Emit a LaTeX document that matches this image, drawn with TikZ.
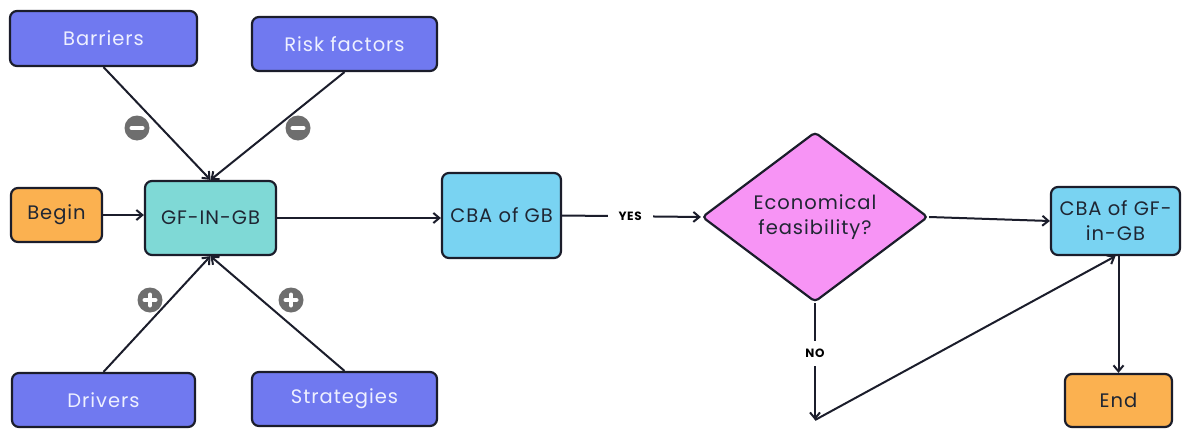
\documentclass[tikz,border=0pt]{standalone}
\usepackage{fontspec}
\setmainfont{Poppins}[LetterSpace=5]
\usetikzlibrary{arrows.meta,shapes.geometric}

\definecolor{edge}{HTML}{1B1D2B}
\definecolor{violetbox}{HTML}{7079F0}
\definecolor{violettext}{HTML}{EEF0FF}
\definecolor{orangebox}{HTML}{FBB150}
\definecolor{tealbox}{HTML}{7FD9D6}
\definecolor{bluebox}{HTML}{79D3F2}
\definecolor{pinkbox}{HTML}{F794F5}
\definecolor{signgray}{HTML}{6E6E6E}
\definecolor{darktext}{HTML}{1F2633}

\tikzset{
  basebox/.style={draw=edge, line width=2.2pt, rounded corners=7pt, inner sep=0pt,
    align=center, font=\fontsize{19.5}{25}\selectfont, text=darktext},
  factor/.style={basebox, fill=violetbox, text=violettext, minimum width=185pt, minimum height=54pt},
  terminal/.style={basebox, fill=orangebox},
  core/.style={basebox, fill=tealbox},
  analysis/.style={basebox, fill=bluebox},
  decision/.style={diamond, draw=edge, line width=2.2pt, rounded corners=4pt, fill=pinkbox,
    inner sep=0pt, minimum width=226pt, minimum height=170pt, align=center,
    font=\fontsize{19.5}{25}\selectfont, text=darktext},
  arr/.style={draw=edge, line width=2pt, -{Straight Barb[length=6pt,width=10pt,line width=2pt]}},
  lbl/.style={fill=white, inner xsep=11pt, inner ysep=2pt, font=\fontsize{12}{14}\selectfont\bfseries, text=black},
  sign/.style={circle, fill=signgray, minimum size=25pt, inner sep=0pt},
  minussign/.style={sign, path picture={
    \draw[white, line width=4pt, line cap=round]
      ([xshift=-5.5pt]path picture bounding box.center) -- ([xshift=5.5pt]path picture bounding box.center);}},
  plussign/.style={sign, path picture={
    \draw[white, line width=4pt, line cap=round]
      ([xshift=-5.5pt]path picture bounding box.center) -- ([xshift=5.5pt]path picture bounding box.center)
      ([yshift=-5.5pt]path picture bounding box.center) -- ([yshift=5.5pt]path picture bounding box.center);}},
}

\begin{document}
\begin{tikzpicture}[x=1pt, y=-1pt]
  \useasboundingbox[fill=white] (0,0) rectangle (1182,428);

  % influencing factors
  \node[factor, minimum width=187pt, minimum height=55pt] (barriers) at (103.5,38.5) {Barriers};
  \node[factor] (risk) at (344.5,44) {Risk factors};
  \node[factor, minimum width=183pt] (drivers) at (103.5,400) {Drivers};
  \node[factor] (strategies) at (344.5,399) {Strategies};

  % main flow
  \node[terminal, minimum width=91pt, minimum height=54pt] (begin) at (56.5,215) {Begin};
  \node[core, minimum width=131pt, minimum height=74pt] (gf) at (210.5,218) {GF-IN-GB};
  \node[analysis, minimum width=119pt, minimum height=85pt] (cbagb) at (501.5,215.5) {CBA of GB};
  \node[decision] (feas) at (815,217) {Economical\\feasibility?};
  \node[analysis, minimum width=129pt, minimum height=68pt] (cbagf) at (1115.5,221) {CBA of GF-\\in-GB};
  \node[terminal, minimum width=107pt, minimum height=53pt] (finish) at (1118.5,400.5) {End};
  \coordinate (nocorner) at (815,420);

  % factor influences
  \draw[arr] (barriers.south) -- (gf.north);
  \draw[arr] (risk.south) -- (gf.north);
  \draw[arr] (drivers.north) -- (gf.south);
  \draw[arr] (strategies.north) -- (gf.south);

  \node[minussign] (m1) at (137,128) {};
  \node[minussign] (m2) at (298,128) {};
  \node[plussign] (p1) at (150,300) {};
  \node[plussign] (p2) at (291,300) {};

  % flow connectors
  \draw[arr] (begin.east) -- (gf.west |- begin.east);
  \draw[arr] (gf.east) -- (cbagb.west |- gf.east);
  \draw[arr] (cbagb.east) -- node[lbl, pos=0.49] {YES} (feas.west);
  \draw[arr] (feas.east) -- (cbagf.west);
  \draw[arr] (feas.south) -- node[lbl, pos=0.43, inner xsep=2pt, inner ysep=8pt] {NO} (nocorner);
  \draw[arr] (nocorner) -- (cbagf.south);
  \draw[arr] (finish.north |- cbagf.south) -- (finish.north);
\end{tikzpicture}
\end{document}
